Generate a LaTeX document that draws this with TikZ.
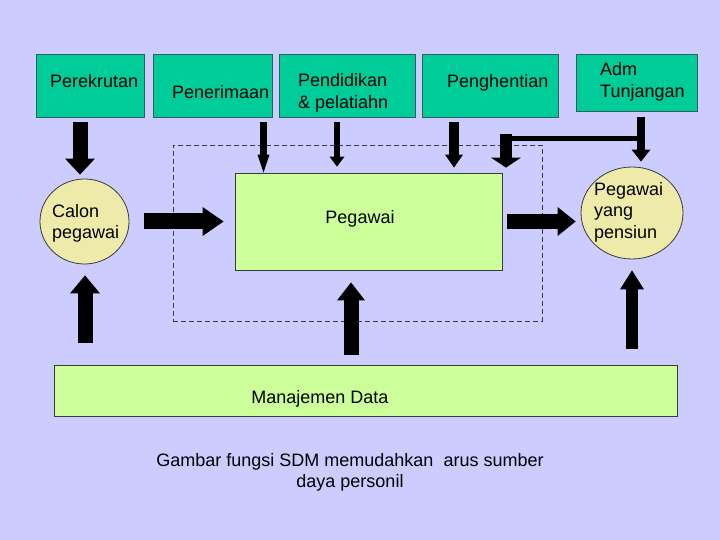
\documentclass[tikz,border=0pt]{standalone}
\usepackage{fontspec}
\setmainfont{Liberation Sans}
\usepackage{xcolor}
\usetikzlibrary{shapes.geometric, arrows.meta}
\definecolor{latar}{HTML}{CCCCFF}
\definecolor{tosca}{HTML}{00CC99}
\definecolor{garistosca}{HTML}{2F5F55}
\definecolor{hijaumuda}{HTML}{CCFF99}
\definecolor{krem}{HTML}{EEEAAA}
\definecolor{garisgelap}{HTML}{3A3A3A}
\definecolor{garisputus}{HTML}{333366}
\tikzstyle{kotak} = [rectangle, draw=garistosca, fill=tosca, line width=0.8pt, inner sep=0pt]
\tikzstyle{kotakhijau} = [rectangle, draw=garisgelap, fill=hijaumuda, line width=0.8pt, inner sep=0pt]
\tikzstyle{lonjong} = [ellipse, draw=garisgelap, fill=krem, line width=0.8pt, inner sep=0pt]
\tikzstyle{teks} = [inner sep=0pt, align=left]

\begin{document}
\begin{tikzpicture}[x=1pt, y=-1pt, font=\fontsize{18}{21.5}\selectfont]
    \fill[latar] (0,0) rectangle (720,540);
    \useasboundingbox (0,0) rectangle (720,540);
    % kotak atas
    \node[kotak, minimum width=108pt, minimum height=63pt] (rekrut) at (90,85.5) {};
    \node[kotak, minimum width=119pt, minimum height=63pt] (terima) at (212.5,85.5) {};
    \node[kotak, minimum width=136pt, minimum height=63pt] (didik) at (347,85.5) {};
    \node[kotak, minimum width=136pt, minimum height=63pt] (henti) at (490,85.5) {};
    \node[kotak, minimum width=121pt, minimum height=57pt] (adm) at (636.5,82.5) {};
        \node[teks, anchor=base west] at (50,88) {Perekrutan};
        \node[teks, anchor=base west] at (172,99) {Penerimaan};
        \node[teks, anchor=base west] at (298,108.5) {Pendidikan\\\& pelatiahn};
        \node[teks, anchor=base west] at (600,97.5) {Adm\\Tunjangan};
        \node[teks, anchor=base west] at (447,88) {Penghentian};
    % lingkup pegawai
    \node[draw=garisputus, dash pattern=on 5pt off 3pt, line width=0.8pt, minimum width=369pt, minimum height=176pt, inner sep=0pt] (lingkup) at (357.5,233) {};
    \node[kotakhijau, minimum width=267pt, minimum height=97pt] (pegawai) at (368.5,221.5) {};
    \node[lonjong, minimum width=89pt, minimum height=85pt] (calon) at (84.5,221.5) {};
    \node[lonjong, minimum width=102pt, minimum height=92pt] (pensiun) at (632,213) {};
        \node[teks, anchor=base] at (360,223) {Pegawai};
        \node[teks, anchor=base west] at (52,239) {Calon\\pegawai};
        \node[teks, anchor=base west] at (594,238) {Pegawai\\yang\\pensiun};
    % manajemen data
    \node[kotakhijau, minimum width=623pt, minimum height=51pt] (data) at (365.5,390.5) {};
        \node[teks, anchor=base] at (320,403) {Manajemen Data};
    \node[inner sep=0pt, align=center, anchor=base] (ket) at (350,487.5) {Gambar fungsi SDM memudahkan\ \ arus sumber\\daya personil};
    % ujung bebas
    \coordinate (a1) at (80,122);
    \coordinate (a2) at (263.5,122);
    \coordinate (a3) at (337,122);
    \coordinate (a4) at (454,122);
    \coordinate (a5) at (641,117);
    \coordinate (e1) at (641,139);
    \coordinate (e2) at (506,134);
    \coordinate (b1) at (85,343);
    \coordinate (b2) at (351,355);
    \coordinate (b3) at (632,349);
    % panah ke bawah
    \draw[line width=15pt, -{Triangle[width=30pt, length=16pt, line width=0pt]}] (a1) -- ([yshift=4pt]a1 |- calon.north);
    \draw[line width=7pt, -{Triangle[width=12pt, length=18pt, line width=0pt]}] (a2) -- (a2 |- pegawai.north);
    \draw[line width=6pt, -{Triangle[width=15pt, length=10pt, line width=0pt]}] (a3) -- ([yshift=6pt]a3 |- pegawai.north);
    \draw[line width=10pt, -{Triangle[width=18pt, length=13pt, line width=0pt]}] (a4) -- ([yshift=5pt]a4 |- pegawai.north);
    \draw[line width=8pt, -{Triangle[width=19pt, length=12pt, line width=0pt]}] (a5) -- ([yshift=5pt]a5 |- pensiun.north);
    \draw[line width=5pt] (e1) -- (e1 -| e2);
    \draw[line width=12pt, -{Triangle[width=30pt, length=10pt, line width=0pt]}] (e2) -- ([yshift=5pt]e2 |- pegawai.north);
    % panah mendatar
    \draw[line width=16pt, -{Triangle[width=29pt, length=21pt, line width=0pt]}] ([xshift=15pt]calon.east) -- ([xshift=-11pt]pegawai.west);
    \draw[line width=15pt, -{Triangle[width=29pt, length=18pt, line width=0pt]}] ([xshift=5pt]pegawai.east) -- ([xshift=-5pt]pegawai.east -| pensiun.west);
    % panah ke atas
    \draw[line width=15pt, -{Triangle[width=30pt, length=18pt, line width=0pt]}] (b1) -- ([yshift=-11pt]b1 |- calon.south);
    \draw[line width=15pt, -{Triangle[width=28pt, length=18pt, line width=0pt]}] (b2) -- ([yshift=-12pt]b2 |- pegawai.south);
    \draw[line width=12.5pt, -{Triangle[width=24pt, length=19pt, line width=0pt]}] (b3) -- ([yshift=-11pt]b3 |- pensiun.south);
\end{tikzpicture}
\end{document}
